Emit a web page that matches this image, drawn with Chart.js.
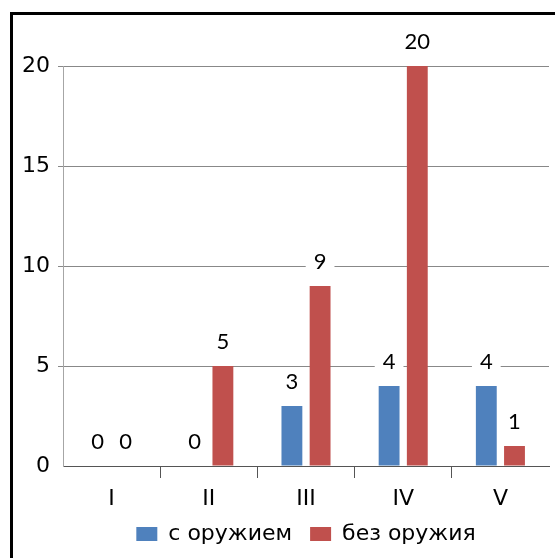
<!DOCTYPE html>
<html>
<head>
<meta charset="utf-8">
<script src="https://cdn.jsdelivr.net/npm/chart.js@4"></script>
<style>
  html, body { margin: 0; padding: 0; overflow: hidden; background: #fff; }
  #wrap { position: relative; width: 555px; height: 558px; }
  #frame { position: absolute; left: 10px; top: 12px; width: 700px; height: 700px; border: 3px solid #000; pointer-events: none; }
</style>
</head>
<body>
<div id="wrap">
  <canvas id="myChart" width="555" height="558"></canvas>
  <div id="frame"></div>
</div>
<script>
let categories = ["I", "II", "III", "IV", "V"];
let withWeapon = [0, 0, 3, 4, 4];
let withoutWeapon = [0, 5, 9, 20, 1];
let yMin = 0;
let yMax = 20;
let yStep = 5;

// value labels above the bars, on a white box
let barLabels = {
  id: "barLabels",
  afterDatasetsDraw: function(chart) {
    let ctx = chart.ctx;
    ctx.save();
    ctx.font = "22px Lato";
    ctx.textAlign = "center";
    ctx.textBaseline = "middle";
    chart.data.datasets.forEach(function(ds, i) {
      chart.getDatasetMeta(i).data.forEach(function(bar, j) {
        let text = String(ds.data[j]);
        let w = ctx.measureText(text).width + 16;
        let y = bar.y - 24;
        ctx.fillStyle = "#fff";
        ctx.fillRect(bar.x - w / 2, y - 15, w, 30);
        ctx.fillStyle = "#000";
        ctx.fillText(text, bar.x, y);
      });
    });
    ctx.restore();
  }
};

// center the legend under the plot area, not the whole canvas
let legendUnderPlot = {
  id: "legendUnderPlot",
  afterLayout: function(chart) {
    let lg = chart.legend;
    let shift = chart.chartArea.left - lg.left;
    lg.left += shift;
    lg.width = lg.right - lg.left;
  }
};

let ctx = document.getElementById("myChart").getContext("2d");

let chart = new Chart(ctx, {
  type: "bar",
  data: {
    labels: categories,
    datasets: [{
      label: "с оружием",
      backgroundColor: "#4F81BD",
      borderWidth: 0,
      data: withWeapon
    }, {
      label: "без оружия",
      backgroundColor: "#C0504D",
      borderWidth: 0,
      data: withoutWeapon
    }]
  },
  options: {
    responsive: false,
    animation: false,
    barPercentage: 0.74,
    categoryPercentage: 0.58,
    layout: { padding: { left: 10, right: 6, top: 66, bottom: 3 } },
    plugins: {
      tooltip: { enabled: false },
      legend: {
        position: "bottom",
        labels: {
          color: "#000",
          font: { family: "DejaVu Sans", size: 22 },
          boxWidth: 21,
          boxHeight: 14,
          padding: 18
        }
      }
    },
    scales: {
      x: {
        afterFit: function(scale) { scale.height = 39; },
        grid: {
          drawOnChartArea: false,
          drawTicks: true,
          tickLength: 12,
          color: function(c) {
            return (c.index === 0 || c.index === undefined) ? "rgba(0,0,0,0)" : "#555";
          }
        },
        border: { color: "#555", width: 1 },
        ticks: {
          color: "#000",
          padding: 8,
          font: { family: "DejaVu Sans", size: 22 }
        }
      },
      y: {
        min: yMin,
        max: yMax,
        afterFit: function(scale) { scale.width = 53; },
        grid: {
          tickLength: 5,
          color: function(c) {
            return (c.tick && c.tick.value === 0) ? "rgba(0,0,0,0)" : "#888";
          }
        },
        border: { color: "#a6a6a6", width: 1 },
        ticks: {
          stepSize: yStep,
          color: "#000",
          padding: 8,
          font: { family: "DejaVu Sans", size: 22 }
        }
      }
    }
  },
  plugins: [barLabels, legendUnderPlot]
});
</script>
</body>
</html>
